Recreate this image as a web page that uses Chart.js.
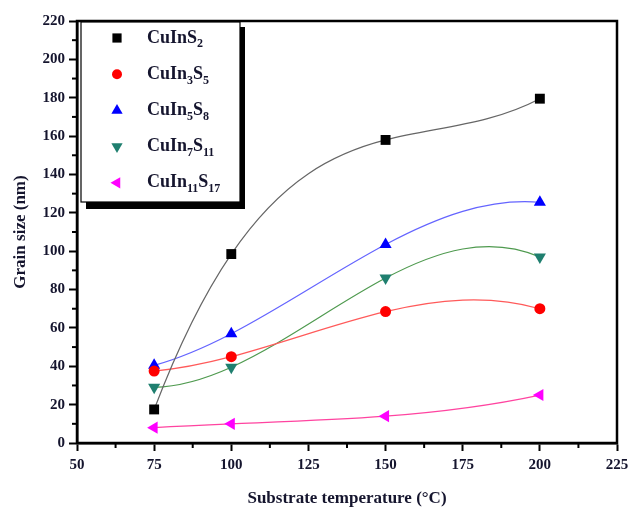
<!DOCTYPE html>
<html>
<head>
<meta charset="utf-8">
<script src="https://cdn.jsdelivr.net/npm/chart.js@4.4.0/dist/chart.umd.min.js"></script>
<style>
  html, body { margin: 0; padding: 0; background: #fff; }
  #wrap { width: 628px; height: 509px; }
</style>
</head>
<body>
<div id="wrap"><canvas id="grain-chart" width="628" height="509"></canvas></div>
<script>
// --- data ---
const temperatures = [75, 100, 150, 200];
const seriesNames = ['CuInS_2', 'CuIn_3S_5', 'CuIn_5S_8', 'CuIn_7S_11', 'CuIn_11S_17'];
const cuInS2 = [17.5, 98.5, 158, 179.5];
const cuIn3S5 = [37.5, 45, 68.5, 70];
const cuIn5S8 = [40.5, 57, 103.5, 125.5];
const cuIn7S11 = [29, 39.5, 86, 97];
const cuIn11S17 = [8, 10, 14, 25];
const xTicks = [50, 75, 100, 125, 150, 175, 200, 225];
const yTicks = [0, 20, 40, 60, 80, 100, 120, 140, 160, 180, 200, 220];

const INK = '#15152e';
const SERIF = '"Liberation Serif", "Times New Roman", serif';

const styles = [
    { marker: '#000000', line: '#666666', pointStyle: 'rect', rotation: 0, radius: 7 },
    { marker: '#ff0000', line: '#ff5a5a', pointStyle: 'circle', rotation: 0, radius: 5.5 },
    { marker: '#0000ff', line: '#6464ff', pointStyle: 'triangle', rotation: 0, radius: 7 },
    { marker: '#1f7f6f', line: '#4f9a4f', pointStyle: 'triangle', rotation: 180, radius: 7 },
    { marker: '#ff00ff', line: '#ff44a0', pointStyle: 'triangle', rotation: -90, radius: 7 }
];
const seriesValues = [cuInS2, cuIn3S5, cuIn5S8, cuIn7S11, cuIn11S17];

const datasets = seriesValues.map((vals, i) => ({
    label: seriesNames[i],
    data: temperatures.map((t, j) => ({ x: t, y: vals[j] })),
    borderColor: styles[i].line,
    borderWidth: 1.2,
    backgroundColor: styles[i].marker,
    pointBackgroundColor: styles[i].marker,
    pointBorderColor: styles[i].marker,
    pointBorderWidth: 0,
    pointStyle: styles[i].pointStyle,
    rotation: styles[i].rotation,
    pointRadius: styles[i].radius,
    tension: 0.4,
    fill: false
}));

// draw text with "_digits" as subscripts
function drawSubText(ctx, text, x, y, size) {
    const parts = text.split(/(_\d+)/).filter(p => p);
    let cx = x;
    parts.forEach(p => {
        const sub = p.startsWith('_');
        const s = sub ? p.slice(1) : p;
        ctx.font = `bold ${sub ? Math.round(size * 0.65) : size}px ${SERIF}`;
        ctx.fillText(s, cx, sub ? y + size * 0.35 : y);
        cx += ctx.measureText(s).width;
    });
}

// slope of the polynomial through all points (same as a not-a-knot spline for 4 points)
function polySlopes(pts) {
    const n = pts.length;
    const xs = pts.map(p => p.x), coef = pts.map(p => p.y);
    for (let j = 1; j < n; j++) {
        for (let i = n - 1; i >= j; i--) coef[i] = (coef[i] - coef[i - 1]) / (xs[i] - xs[i - j]);
    }
    const evalAt = x => {
        let v = coef[n - 1];
        for (let i = n - 2; i >= 0; i--) v = v * (x - xs[i]) + coef[i];
        return v;
    };
    const e = 0.01;
    return xs.map(x => (evalAt(x + e) - evalAt(x - e)) / (2 * e));
}

const splinePlugin = {
    id: 'originSpline',
    beforeDatasetsDraw(chart) {
        chart.data.datasets.forEach((ds, di) => {
            const meta = chart.getDatasetMeta(di);
            const pts = meta.data;
            const n = pts.length;
            if (n < 3) return;
            const d = polySlopes(pts);
            for (let i = 0; i < n - 1; i++) {
                const h = pts[i + 1].x - pts[i].x;
                pts[i].cp2x = pts[i].x + h / 3;
                pts[i].cp2y = pts[i].y + d[i] * h / 3;
                pts[i + 1].cp1x = pts[i + 1].x - h / 3;
                pts[i + 1].cp1y = pts[i + 1].y - d[i + 1] * h / 3;
            }
            pts[0].cp1x = pts[0].x; pts[0].cp1y = pts[0].y;
            pts[n - 1].cp2x = pts[n - 1].x; pts[n - 1].cp2y = pts[n - 1].y;
            meta.dataset._pointsUpdated = true;
        });
    }
};

const framePlugin = {
    id: 'frame',
    afterDraw(chart) {
        const { ctx, chartArea: a, scales } = chart;
        ctx.save();
        // minor ticks
        ctx.strokeStyle = '#000';
        ctx.lineWidth = 2;
        for (let i = 0; i < xTicks.length - 1; i++) {
            const px = scales.x.getPixelForValue((xTicks[i] + xTicks[i + 1]) / 2);
            ctx.beginPath(); ctx.moveTo(px, a.bottom); ctx.lineTo(px, a.bottom + 5); ctx.stroke();
        }
        for (let i = 0; i < yTicks.length - 1; i++) {
            const py = scales.y.getPixelForValue((yTicks[i] + yTicks[i + 1]) / 2);
            ctx.beginPath(); ctx.moveTo(a.left, py); ctx.lineTo(a.left - 5, py); ctx.stroke();
        }
        // box
        ctx.lineWidth = 2.5;
        ctx.strokeRect(a.left, a.top, a.right - a.left, a.bottom - a.top);

        // legend box with shadow
        const lx = a.left + 4, ly = a.top + 1, lw = 159, lh = 180;
        ctx.fillStyle = '#000';
        ctx.fillRect(lx + 5, ly + 5, lw, lh + 2);
        ctx.fillStyle = '#fff';
        ctx.fillRect(lx, ly, lw, lh);
        ctx.lineWidth = 1.2;
        ctx.strokeRect(lx, ly, lw, lh);

        ctx.textBaseline = 'middle';
        ctx.textAlign = 'left';
        seriesNames.forEach((name, i) => {
            const yy = ly + 16 + i * 36.2;
            ctx.fillStyle = styles[i].marker;
            Chart.helpers.drawPoint(ctx, {
                pointStyle: styles[i].pointStyle,
                rotation: styles[i].rotation,
                radius: styles[i].radius - 0.5,
                borderWidth: 0
            }, lx + 36, yy);
            ctx.fillStyle = INK;
            drawSubText(ctx, name, lx + 66, yy, 18);
        });
        ctx.restore();
    }
};

new Chart(document.getElementById('grain-chart'), {
    type: 'line',
    data: { datasets },
    options: {
        responsive: false,
        animation: false,
        layout: { padding: { top: 21, right: 11, left: 0, bottom: 0 } },
        plugins: { legend: { display: false }, tooltip: { enabled: false } },
        scales: {
            x: {
                type: 'linear',
                min: 50, max: 225,
                afterBuildTicks: s => { s.ticks = xTicks.map(v => ({ value: v })); },
                afterFit: s => { s.height = 66; s.paddingLeft = 0; s.paddingRight = 0; },
                grid: { drawOnChartArea: false, tickLength: 8, tickWidth: 2, tickColor: '#000', color: '#000' },
                border: { color: '#000', width: 2.5 },
                ticks: { color: INK, padding: 5, maxRotation: 0, font: { family: SERIF, size: 15, weight: 'bold' } },
                title: { display: true, text: 'Substrate temperature (°C)', color: INK,
                    font: { family: SERIF, size: 17, weight: 'bold' }, padding: { top: 7, bottom: 0 } }
            },
            y: {
                min: 0, max: 220,
                afterBuildTicks: s => { s.ticks = yTicks.map(v => ({ value: v })); },
                afterFit: s => { s.width = 77; },
                grid: { drawOnChartArea: false, tickLength: 8, tickWidth: 2, tickColor: '#000', color: '#000' },
                border: { color: '#000', width: 2.5 },
                ticks: { color: INK, padding: 4, font: { family: SERIF, size: 15, weight: 'bold' } },
                title: { display: true, text: 'Grain size (nm)', color: INK,
                    font: { family: SERIF, size: 17, weight: 'bold' }, padding: { top: 10, bottom: 4 } }
            }
        }
    },
    plugins: [splinePlugin, framePlugin]
});
</script>
</body>
</html>
